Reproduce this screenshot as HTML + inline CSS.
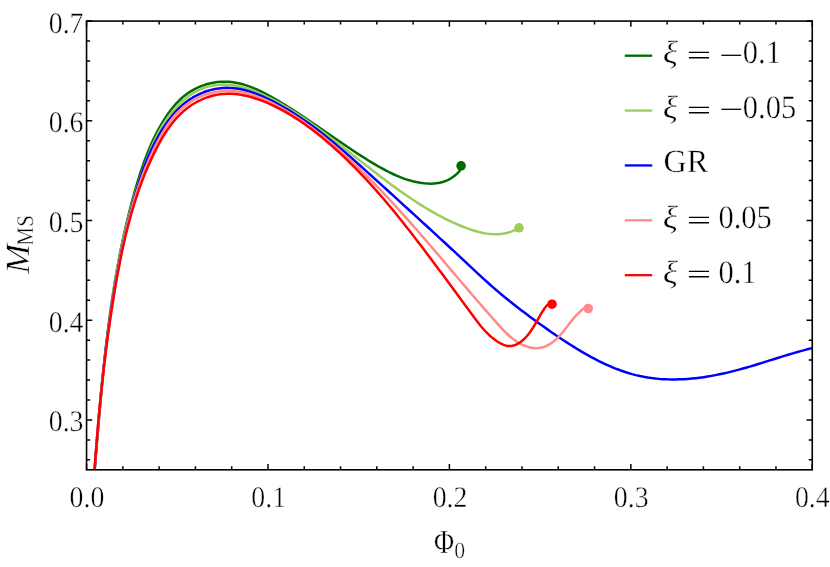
<!DOCTYPE html>
<html lang="en"><head><meta charset="utf-8"><title>M_MS vs Phi_0</title>
<style>
html,body{margin:0;padding:0;background:#fff;}
body{width:830px;height:567px;overflow:hidden;}
svg{display:block;}
text{font-family:"Liberation Serif",serif;fill:#000;stroke:#fff;stroke-width:0.45px;paint-order:fill stroke;text-rendering:geometricPrecision;}
.it{font-style:italic;}
.ns{stroke:none;}
</style></head><body>
<svg style="will-change:transform" width="830" height="567" viewBox="0 0 830 567">
<rect width="830" height="567" fill="#fff"/>
<defs><clipPath id="c"><rect x="86.56" y="21.07" width="725.69" height="448.73"/></clipPath></defs>
<g clip-path="url(#c)" fill="none" stroke-width="2.5" stroke-linejoin="round" stroke-linecap="butt">
<path d="M94.60 469.80 L94.94 465.79 L95.28 461.78 L95.62 457.77 L95.95 453.76 L96.29 449.75 L96.63 445.74 L96.96 441.72 L97.30 437.71 L97.64 433.69 L97.98 429.68 L98.32 425.66 L98.67 421.64 L99.01 417.63 L99.36 413.61 L99.72 409.59 L100.07 405.57 L100.43 401.56 L100.80 397.54 L101.17 393.52 L101.54 389.51 L101.92 385.49 L102.31 381.47 L102.70 377.46 L103.10 373.44 L103.50 369.43 L103.92 365.42 L104.34 361.41 L104.77 357.40 L105.20 353.39 L105.65 349.38 L106.10 345.37 L106.57 341.37 L107.04 337.36 L107.53 333.36 L108.02 329.36 L108.53 325.36 L109.04 321.37 L109.57 317.37 L110.11 313.38 L110.67 309.39 L111.23 305.40 L111.81 301.42 L112.41 297.43 L113.01 293.45 L113.63 289.47 L114.27 285.50 L114.92 281.53 L115.59 277.56 L116.27 273.59 L116.97 269.63 L117.68 265.67 L118.41 261.71 L119.16 257.76 L119.92 253.81 L120.71 249.86 L121.51 245.92 L122.33 241.98 L123.17 238.05 L124.03 234.12 L124.91 230.19 L125.81 226.27 L126.73 222.35 L127.67 218.44 L128.63 214.53 L129.61 210.62 L130.62 206.72 L131.64 202.83 L132.69 198.94 L133.76 195.05 L134.86 191.17 L135.98 187.30 L137.13 183.43 L138.30 179.56 L139.50 175.71 L140.73 171.86 L142.00 168.03 L143.32 164.21 L144.67 160.41 L146.08 156.63 L147.54 152.87 L149.06 149.13 L150.64 145.42 L152.28 141.74 L154.00 138.09 L155.78 134.47 L157.64 130.88 L159.58 127.33 L161.61 123.82 L163.72 120.35 L165.93 116.93 L168.23 113.56 L170.64 110.26 L173.16 107.06 L175.80 103.98 L178.57 101.04 L181.49 98.25 L184.54 95.66 L187.76 93.26 L191.11 91.08 L194.59 89.12 L198.19 87.37 L201.88 85.85 L205.66 84.56 L209.51 83.50 L213.40 82.68 L217.33 82.10 L221.29 81.76 L225.25 81.67 L229.20 81.83 L233.12 82.25 L237.02 82.91 L240.89 83.79 L244.73 84.88 L248.54 86.15 L252.32 87.58 L256.07 89.16 L259.79 90.87 L263.47 92.69 L267.12 94.59 L270.74 96.57 L274.32 98.59 L277.87 100.65 L281.38 102.74 L284.86 104.85 L288.32 106.99 L291.74 109.14 L295.14 111.32 L298.52 113.51 L301.88 115.72 L305.22 117.94 L308.55 120.18 L311.86 122.42 L315.16 124.67 L318.46 126.93 L321.74 129.20 L325.03 131.47 L328.31 133.74 L331.59 136.01 L334.88 138.28 L338.17 140.54 L341.47 142.80 L344.78 145.05 L348.11 147.29 L351.44 149.52 L354.80 151.74 L358.17 153.94 L361.57 156.13 L364.99 158.29 L368.43 160.44 L371.91 162.57 L375.41 164.66 L378.95 166.72 L382.51 168.71 L386.12 170.64 L389.75 172.49 L393.43 174.25 L397.14 175.89 L400.88 177.42 L404.67 178.82 L408.50 180.07 L412.37 181.17 L416.28 182.09 L420.23 182.83 L424.20 183.35 L428.16 183.62 L432.09 183.63 L435.98 183.33 L439.80 182.70 L443.53 181.71 L447.15 180.34 L450.64 178.55 L453.98 176.32 L457.14 173.61 L460.10 170.40 L461.10 165.85" stroke="#006c00"/>
<path d="M94.60 469.80 L94.96 465.81 L95.33 461.81 L95.69 457.82 L96.04 453.82 L96.39 449.82 L96.74 445.82 L97.09 441.82 L97.44 437.81 L97.79 433.80 L98.14 429.79 L98.49 425.79 L98.84 421.77 L99.19 417.76 L99.54 413.75 L99.89 409.74 L100.25 405.72 L100.61 401.71 L100.97 397.69 L101.33 393.68 L101.70 389.67 L102.08 385.65 L102.46 381.64 L102.85 377.62 L103.24 373.61 L103.64 369.59 L104.04 365.58 L104.46 361.57 L104.88 357.56 L105.31 353.55 L105.75 349.54 L106.20 345.53 L106.65 341.53 L107.12 337.53 L107.60 333.52 L108.09 329.52 L108.59 325.52 L109.10 321.53 L109.63 317.53 L110.17 313.54 L110.72 309.55 L111.29 305.57 L111.87 301.59 L112.46 297.60 L113.07 293.63 L113.69 289.65 L114.34 285.68 L114.99 281.72 L115.67 277.75 L116.36 273.79 L117.07 269.83 L117.80 265.88 L118.55 261.93 L119.31 257.99 L120.10 254.05 L120.90 250.12 L121.73 246.19 L122.58 242.26 L123.45 238.34 L124.34 234.42 L125.25 230.51 L126.19 226.61 L127.15 222.71 L128.13 218.81 L129.14 214.92 L130.17 211.04 L131.23 207.16 L132.31 203.29 L133.42 199.43 L134.55 195.57 L135.71 191.72 L136.90 187.87 L138.12 184.03 L139.37 180.20 L140.64 176.38 L141.94 172.56 L143.28 168.75 L144.64 164.95 L146.03 161.15 L147.46 157.37 L148.94 153.61 L150.46 149.86 L152.04 146.15 L153.69 142.47 L155.40 138.83 L157.19 135.23 L159.07 131.68 L161.03 128.19 L163.09 124.75 L165.25 121.38 L167.52 118.07 L169.91 114.84 L172.41 111.69 L175.05 108.63 L177.82 105.65 L180.72 102.79 L183.75 100.07 L186.90 97.50 L190.17 95.11 L193.56 92.93 L197.06 90.97 L200.67 89.26 L204.38 87.82 L208.18 86.64 L212.05 85.73 L215.97 85.08 L219.94 84.69 L223.92 84.56 L227.91 84.69 L231.89 85.07 L235.85 85.69 L239.78 86.53 L243.69 87.56 L247.56 88.75 L251.40 90.08 L255.19 91.52 L258.94 93.04 L262.65 94.65 L266.32 96.33 L269.95 98.09 L273.54 99.92 L277.10 101.81 L280.62 103.76 L284.11 105.77 L287.57 107.83 L291.00 109.94 L294.40 112.09 L297.78 114.28 L301.14 116.51 L304.47 118.77 L307.78 121.05 L311.08 123.36 L314.35 125.70 L317.61 128.06 L320.86 130.43 L324.09 132.83 L327.31 135.24 L330.51 137.66 L333.71 140.10 L336.90 142.55 L340.08 145.01 L343.26 147.48 L346.43 149.96 L349.59 152.44 L352.75 154.93 L355.92 157.41 L359.08 159.90 L362.24 162.38 L365.41 164.86 L368.58 167.34 L371.75 169.81 L374.93 172.27 L378.12 174.72 L381.31 177.16 L384.52 179.58 L387.74 181.99 L390.97 184.39 L394.21 186.76 L397.47 189.12 L400.75 191.45 L404.04 193.76 L407.35 196.04 L410.68 198.30 L414.03 200.53 L417.41 202.73 L420.80 204.89 L424.22 207.02 L427.67 209.10 L431.14 211.14 L434.64 213.13 L438.17 215.07 L441.73 216.96 L445.31 218.79 L448.93 220.57 L452.58 222.28 L456.26 223.92 L459.98 225.50 L463.73 227.00 L467.51 228.43 L471.33 229.77 L475.18 230.98 L479.06 232.05 L482.96 232.94 L486.87 233.63 L490.80 234.08 L494.73 234.28 L498.67 234.19 L502.61 233.78 L506.55 233.04 L510.48 231.92 L514.40 230.40 L519.00 227.80" stroke="#9ccd5c"/>
<path d="M94.60 469.80 L94.91 465.79 L95.21 461.78 L95.52 457.77 L95.84 453.76 L96.15 449.75 L96.47 445.74 L96.79 441.73 L97.12 437.73 L97.44 433.72 L97.78 429.71 L98.12 425.70 L98.46 421.70 L98.80 417.69 L99.16 413.69 L99.51 409.68 L99.88 405.68 L100.25 401.67 L100.62 397.67 L101.01 393.67 L101.40 389.67 L101.79 385.67 L102.20 381.67 L102.61 377.68 L103.03 373.68 L103.46 369.69 L103.89 365.70 L104.34 361.70 L104.80 357.71 L105.26 353.73 L105.73 349.74 L106.22 345.75 L106.71 341.77 L107.22 337.79 L107.74 333.81 L108.26 329.83 L108.80 325.85 L109.35 321.88 L109.92 317.90 L110.49 313.93 L111.08 309.96 L111.68 306.00 L112.29 302.03 L112.92 298.07 L113.56 294.11 L114.21 290.15 L114.88 286.20 L115.57 282.25 L116.27 278.30 L116.98 274.35 L117.71 270.41 L118.45 266.46 L119.21 262.52 L119.99 258.59 L120.78 254.65 L121.59 250.72 L122.42 246.80 L123.26 242.87 L124.13 238.95 L125.01 235.03 L125.91 231.11 L126.82 227.20 L127.76 223.29 L128.71 219.39 L129.69 215.49 L130.68 211.59 L131.69 207.69 L132.73 203.80 L133.78 199.91 L134.86 196.03 L135.97 192.16 L137.11 188.30 L138.29 184.44 L139.50 180.60 L140.76 176.78 L142.07 172.97 L143.42 169.18 L144.82 165.42 L146.28 161.67 L147.80 157.95 L149.39 154.26 L151.04 150.59 L152.76 146.95 L154.55 143.34 L156.42 139.77 L158.37 136.23 L160.41 132.73 L162.53 129.27 L164.74 125.85 L167.05 122.48 L169.46 119.19 L171.98 115.99 L174.60 112.89 L177.34 109.91 L180.20 107.08 L183.19 104.40 L186.30 101.90 L189.55 99.58 L192.91 97.46 L196.38 95.53 L199.95 93.80 L203.60 92.28 L207.32 90.98 L211.10 89.89 L214.93 89.02 L218.80 88.39 L222.70 87.98 L226.62 87.82 L230.53 87.89 L234.45 88.21 L238.35 88.76 L242.24 89.52 L246.12 90.47 L249.98 91.60 L253.81 92.89 L257.62 94.33 L261.40 95.89 L265.15 97.57 L268.87 99.33 L272.54 101.18 L276.18 103.09 L279.76 105.05 L283.31 107.05 L286.82 109.10 L290.28 111.19 L293.71 113.33 L297.10 115.51 L300.46 117.73 L303.78 119.98 L307.08 122.27 L310.34 124.60 L313.57 126.96 L316.78 129.35 L319.96 131.77 L323.12 134.22 L326.26 136.70 L329.37 139.20 L332.47 141.73 L335.55 144.27 L338.61 146.84 L341.66 149.43 L344.69 152.04 L347.71 154.66 L350.73 157.29 L353.73 159.94 L356.73 162.60 L359.72 165.27 L362.71 167.94 L365.70 170.63 L368.69 173.32 L371.68 176.01 L374.66 178.71 L377.64 181.41 L380.63 184.11 L383.61 186.82 L386.59 189.53 L389.57 192.24 L392.55 194.95 L395.53 197.67 L398.50 200.38 L401.48 203.09 L404.45 205.81 L407.42 208.52 L410.39 211.23 L413.36 213.94 L416.33 216.65 L419.30 219.35 L422.26 222.06 L425.23 224.77 L428.19 227.47 L431.14 230.18 L434.10 232.89 L437.05 235.61 L440.00 238.32 L442.95 241.04 L445.90 243.76 L448.84 246.49 L451.78 249.22 L454.72 251.96 L457.65 254.71 L460.58 257.46 L463.51 260.21 L466.44 262.96 L469.37 265.70 L472.31 268.45 L475.26 271.19 L478.21 273.91 L481.18 276.63 L484.15 279.34 L487.14 282.03 L490.14 284.70 L493.16 287.35 L496.20 289.99 L499.25 292.60 L502.33 295.18 L505.43 297.74 L508.55 300.27 L511.68 302.78 L514.84 305.27 L518.01 307.74 L521.20 310.18 L524.40 312.61 L527.61 315.02 L530.84 317.41 L534.08 319.78 L537.33 322.14 L540.59 324.48 L543.86 326.81 L547.14 329.12 L550.43 331.42 L553.73 333.71 L557.04 335.97 L560.36 338.22 L563.70 340.44 L567.06 342.63 L570.44 344.80 L573.84 346.93 L577.26 349.03 L580.71 351.10 L584.19 353.13 L587.69 355.11 L591.23 357.06 L594.80 358.96 L598.40 360.80 L602.03 362.59 L605.69 364.31 L609.38 365.97 L613.10 367.54 L616.84 369.04 L620.61 370.45 L624.41 371.77 L628.23 372.99 L632.07 374.11 L635.94 375.12 L639.83 376.01 L643.74 376.80 L647.67 377.47 L651.61 378.04 L655.57 378.51 L659.54 378.88 L663.53 379.15 L667.52 379.33 L671.52 379.42 L675.53 379.42 L679.54 379.33 L683.56 379.16 L687.57 378.91 L691.58 378.58 L695.60 378.18 L699.60 377.70 L703.60 377.16 L707.60 376.55 L711.58 375.87 L715.55 375.14 L719.51 374.35 L723.45 373.50 L727.38 372.60 L731.29 371.65 L735.18 370.66 L739.06 369.63 L742.93 368.56 L746.79 367.45 L750.64 366.33 L754.48 365.18 L758.32 364.01 L762.15 362.82 L765.98 361.63 L769.81 360.43 L773.63 359.23 L777.46 358.03 L781.29 356.84 L785.13 355.66 L788.97 354.50 L792.82 353.36 L796.69 352.24 L800.56 351.15 L804.44 350.10 L808.34 349.08 L812.25 348.10" stroke="#0000ff"/>
<path d="M94.60 469.80 L94.89 465.77 L95.19 461.73 L95.49 457.70 L95.79 453.67 L96.10 449.65 L96.41 445.62 L96.73 441.60 L97.06 437.58 L97.38 433.56 L97.72 429.54 L98.06 425.53 L98.41 421.52 L98.76 417.51 L99.12 413.50 L99.48 409.49 L99.85 405.48 L100.23 401.48 L100.62 397.48 L101.02 393.47 L101.42 389.47 L101.83 385.48 L102.24 381.48 L102.67 377.48 L103.11 373.49 L103.55 369.50 L104.00 365.51 L104.46 361.52 L104.93 357.53 L105.41 353.54 L105.91 349.56 L106.41 345.57 L106.92 341.59 L107.44 337.60 L107.97 333.62 L108.51 329.64 L109.06 325.66 L109.63 321.68 L110.21 317.70 L110.79 313.73 L111.39 309.75 L112.00 305.77 L112.63 301.80 L113.27 297.83 L113.92 293.85 L114.58 289.88 L115.25 285.91 L115.94 281.94 L116.64 277.97 L117.36 273.99 L118.09 270.02 L118.83 266.06 L119.59 262.09 L120.37 258.12 L121.16 254.15 L121.96 250.18 L122.78 246.22 L123.63 242.26 L124.49 238.30 L125.38 234.35 L126.29 230.41 L127.22 226.47 L128.18 222.54 L129.17 218.62 L130.18 214.70 L131.23 210.80 L132.31 206.91 L133.42 203.03 L134.56 199.17 L135.75 195.31 L136.96 191.48 L138.22 187.65 L139.51 183.85 L140.85 180.06 L142.23 176.29 L143.65 172.54 L145.11 168.81 L146.63 165.10 L148.19 161.41 L149.80 157.74 L151.46 154.10 L153.17 150.48 L154.93 146.88 L156.75 143.32 L158.62 139.78 L160.55 136.26 L162.55 132.79 L164.63 129.36 L166.79 125.99 L169.07 122.70 L171.46 119.50 L173.99 116.40 L176.66 113.41 L179.49 110.55 L182.48 107.82 L185.64 105.26 L188.95 102.87 L192.39 100.67 L195.95 98.68 L199.63 96.91 L203.40 95.37 L207.25 94.05 L211.15 92.95 L215.10 92.09 L219.07 91.46 L223.06 91.06 L227.03 90.89 L230.99 90.96 L234.92 91.24 L238.84 91.73 L242.73 92.42 L246.59 93.28 L250.44 94.32 L254.25 95.51 L258.04 96.85 L261.79 98.33 L265.52 99.92 L269.21 101.63 L272.87 103.43 L276.49 105.32 L280.08 107.29 L283.63 109.31 L287.14 111.39 L290.61 113.51 L294.04 115.67 L297.44 117.87 L300.80 120.11 L304.12 122.40 L307.41 124.72 L310.67 127.07 L313.90 129.47 L317.10 131.89 L320.27 134.35 L323.41 136.84 L326.53 139.36 L329.62 141.91 L332.69 144.49 L335.73 147.09 L338.75 149.72 L341.76 152.38 L344.74 155.06 L347.71 157.76 L350.66 160.48 L353.59 163.22 L356.50 165.98 L359.40 168.76 L362.29 171.56 L365.16 174.37 L368.01 177.21 L370.85 180.06 L373.67 182.93 L376.48 185.81 L379.28 188.71 L382.07 191.62 L384.84 194.55 L387.60 197.49 L390.35 200.44 L393.09 203.40 L395.82 206.38 L398.54 209.36 L401.24 212.36 L403.94 215.36 L406.63 218.37 L409.31 221.39 L411.98 224.42 L414.65 227.46 L417.31 230.50 L419.96 233.55 L422.60 236.60 L425.24 239.66 L427.87 242.72 L430.50 245.78 L433.12 248.84 L435.74 251.91 L438.35 254.98 L440.96 258.05 L443.57 261.12 L446.17 264.19 L448.77 267.25 L451.37 270.32 L453.97 273.38 L456.57 276.44 L459.17 279.50 L461.76 282.55 L464.36 285.59 L466.96 288.63 L469.56 291.67 L472.16 294.70 L474.77 297.73 L477.38 300.76 L480.00 303.80 L482.64 306.83 L485.28 309.87 L487.94 312.92 L490.61 315.97 L493.29 319.03 L496.00 322.10 L498.73 325.17 L501.50 328.20 L504.34 331.16 L507.25 334.00 L510.25 336.70 L513.37 339.21 L516.62 341.50 L520.02 343.54 L523.59 345.27 L527.34 346.67 L531.23 347.67 L535.19 348.16 L539.11 348.06 L542.94 347.27 L546.62 345.86 L550.13 343.93 L553.44 341.58 L556.52 338.93 L559.39 336.05 L562.08 333.00 L564.66 329.83 L567.16 326.59 L569.64 323.34 L572.15 320.14 L574.73 317.03 L577.43 314.07 L580.31 311.31 L583.40 308.80 L588.20 308.50" stroke="#ff8a8a"/>
<path d="M94.60 469.80 L94.88 465.76 L95.17 461.72 L95.47 457.69 L95.77 453.65 L96.07 449.62 L96.39 445.60 L96.70 441.57 L97.03 437.55 L97.36 433.52 L97.70 429.50 L98.04 425.48 L98.40 421.47 L98.75 417.45 L99.12 413.44 L99.49 409.43 L99.88 405.42 L100.27 401.41 L100.66 397.40 L101.07 393.40 L101.48 389.39 L101.90 385.39 L102.33 381.39 L102.77 377.39 L103.22 373.39 L103.67 369.39 L104.14 365.40 L104.61 361.40 L105.10 357.41 L105.59 353.41 L106.09 349.42 L106.61 345.43 L107.13 341.44 L107.66 337.45 L108.21 333.46 L108.76 329.47 L109.32 325.48 L109.90 321.49 L110.49 317.50 L111.08 313.51 L111.69 309.53 L112.31 305.54 L112.94 301.55 L113.58 297.57 L114.24 293.58 L114.90 289.59 L115.58 285.61 L116.27 281.62 L116.98 277.64 L117.70 273.66 L118.44 269.68 L119.19 265.70 L119.96 261.72 L120.76 257.75 L121.57 253.79 L122.41 249.83 L123.27 245.88 L124.15 241.93 L125.06 237.99 L125.99 234.06 L126.96 230.13 L127.95 226.22 L128.97 222.31 L130.02 218.41 L131.10 214.53 L132.21 210.65 L133.36 206.79 L134.55 202.94 L135.77 199.10 L137.02 195.27 L138.32 191.46 L139.65 187.67 L141.03 183.88 L142.44 180.12 L143.90 176.37 L145.40 172.64 L146.95 168.92 L148.54 165.22 L150.18 161.55 L151.87 157.89 L153.60 154.25 L155.39 150.63 L157.23 147.03 L159.12 143.46 L161.08 139.92 L163.11 136.44 L165.23 133.01 L167.43 129.66 L169.74 126.38 L172.15 123.19 L174.68 120.10 L177.33 117.13 L180.11 114.28 L183.04 111.56 L186.12 108.98 L189.35 106.55 L192.75 104.29 L196.30 102.21 L199.98 100.33 L203.75 98.65 L207.61 97.20 L211.52 95.99 L215.46 95.04 L219.42 94.36 L223.38 93.94 L227.35 93.76 L231.31 93.81 L235.27 94.08 L239.22 94.56 L243.15 95.22 L247.07 96.07 L250.97 97.07 L254.83 98.23 L258.67 99.52 L262.48 100.94 L266.24 102.46 L269.97 104.09 L273.64 105.79 L277.28 107.58 L280.86 109.44 L284.41 111.37 L287.91 113.38 L291.37 115.45 L294.79 117.59 L298.17 119.78 L301.52 122.03 L304.83 124.34 L308.10 126.70 L311.34 129.10 L314.54 131.55 L317.72 134.04 L320.86 136.57 L323.97 139.13 L327.05 141.73 L330.11 144.36 L333.14 147.01 L336.14 149.70 L339.11 152.41 L342.06 155.15 L344.98 157.92 L347.88 160.71 L350.76 163.53 L353.61 166.37 L356.44 169.23 L359.25 172.12 L362.03 175.03 L364.80 177.97 L367.54 180.92 L370.27 183.89 L372.97 186.88 L375.66 189.89 L378.32 192.92 L380.97 195.96 L383.61 199.02 L386.22 202.10 L388.82 205.19 L391.41 208.29 L393.98 211.41 L396.53 214.54 L399.08 217.68 L401.61 220.83 L404.12 223.99 L406.63 227.16 L409.12 230.34 L411.61 233.53 L414.08 236.73 L416.54 239.93 L419.00 243.13 L421.44 246.35 L423.88 249.56 L426.31 252.78 L428.74 256.00 L431.16 259.22 L433.57 262.45 L435.98 265.67 L438.38 268.90 L440.78 272.12 L443.18 275.34 L445.57 278.56 L447.96 281.78 L450.35 285.01 L452.74 288.24 L455.12 291.47 L457.51 294.71 L459.89 297.95 L462.28 301.20 L464.66 304.46 L467.05 307.74 L469.44 311.02 L471.83 314.31 L474.24 317.60 L476.68 320.86 L479.19 324.07 L481.78 327.21 L484.46 330.25 L487.27 333.18 L490.21 335.97 L493.31 338.60 L496.60 341.04 L500.05 343.21 L503.62 344.91 L507.26 345.94 L510.91 346.10 L514.50 345.31 L518.00 343.71 L521.32 341.48 L524.41 338.77 L527.23 335.74 L529.78 332.47 L532.13 329.04 L534.33 325.49 L536.42 321.88 L538.47 318.27 L540.52 314.72 L542.62 311.29 L544.83 308.03 L547.20 305.00 L552.00 304.25" stroke="#ff0000"/>
</g>
<circle cx="461.1" cy="165.8" r="4.8" fill="#006c00"/>
<circle cx="519.0" cy="227.8" r="4.8" fill="#9ccd5c"/>
<circle cx="588.2" cy="308.5" r="4.8" fill="#ff8a8a"/>
<circle cx="552.0" cy="304.2" r="4.8" fill="#ff0000"/>
<path d="M86.56 469.80v-5.70M86.56 21.07v5.70M122.84 469.80v-3.50M122.84 21.07v3.50M159.13 469.80v-3.50M159.13 21.07v3.50M195.41 469.80v-3.50M195.41 21.07v3.50M231.70 469.80v-3.50M231.70 21.07v3.50M267.98 469.80v-5.70M267.98 21.07v5.70M304.27 469.80v-3.50M304.27 21.07v3.50M340.55 469.80v-3.50M340.55 21.07v3.50M376.84 469.80v-3.50M376.84 21.07v3.50M413.12 469.80v-3.50M413.12 21.07v3.50M449.40 469.80v-5.70M449.40 21.07v5.70M485.69 469.80v-3.50M485.69 21.07v3.50M521.97 469.80v-3.50M521.97 21.07v3.50M558.26 469.80v-3.50M558.26 21.07v3.50M594.54 469.80v-3.50M594.54 21.07v3.50M630.83 469.80v-5.70M630.83 21.07v5.70M667.11 469.80v-3.50M667.11 21.07v3.50M703.40 469.80v-3.50M703.40 21.07v3.50M739.68 469.80v-3.50M739.68 21.07v3.50M775.97 469.80v-3.50M775.97 21.07v3.50M812.25 469.80v-5.70M812.25 21.07v5.70M86.56 459.83h3.50M812.25 459.83h-3.50M86.56 439.88h3.50M812.25 439.88h-3.50M86.56 419.94h5.70M812.25 419.94h-5.70M86.56 400.00h3.50M812.25 400.00h-3.50M86.56 380.05h3.50M812.25 380.05h-3.50M86.56 360.11h3.50M812.25 360.11h-3.50M86.56 340.17h3.50M812.25 340.17h-3.50M86.56 320.22h5.70M812.25 320.22h-5.70M86.56 300.28h3.50M812.25 300.28h-3.50M86.56 280.34h3.50M812.25 280.34h-3.50M86.56 260.39h3.50M812.25 260.39h-3.50M86.56 240.45h3.50M812.25 240.45h-3.50M86.56 220.51h5.70M812.25 220.51h-5.70M86.56 200.56h3.50M812.25 200.56h-3.50M86.56 180.62h3.50M812.25 180.62h-3.50M86.56 160.67h3.50M812.25 160.67h-3.50M86.56 140.73h3.50M812.25 140.73h-3.50M86.56 120.79h5.70M812.25 120.79h-5.70M86.56 100.84h3.50M812.25 100.84h-3.50M86.56 80.90h3.50M812.25 80.90h-3.50M86.56 60.96h3.50M812.25 60.96h-3.50M86.56 41.01h3.50M812.25 41.01h-3.50M86.56 21.07h5.70M812.25 21.07h-5.70" stroke="#000" stroke-width="1.5" fill="none"/>
<rect x="86.56" y="21.07" width="725.69" height="448.73" fill="none" stroke="#000" stroke-width="1.6"/>
<g>
<text font-size="29.93" transform="translate(69.58 506.55) scale(0.9290 1.0000)">0.0</text>
<text font-size="29.93" transform="translate(251.31 506.55) scale(0.9290 1.0000)">0.1</text>
<text font-size="29.93" transform="translate(432.66 506.55) scale(0.9290 1.0000)">0.2</text>
<text font-size="29.93" transform="translate(613.86 506.55) scale(0.9290 1.0000)">0.3</text>
<text font-size="29.93" transform="translate(794.96 506.55) scale(0.9290 1.0000)">0.4</text>
<text font-size="29.93" transform="translate(48.74 431.49) scale(0.9290 1.0000)">0.3</text>
<text font-size="29.93" transform="translate(48.74 331.77) scale(0.9290 1.0000)">0.4</text>
<text font-size="29.93" transform="translate(48.74 232.06) scale(0.9290 1.0000)">0.5</text>
<text font-size="29.93" transform="translate(48.74 132.34) scale(0.9290 1.0000)">0.6</text>
<text font-size="29.93" transform="translate(48.74 32.62) scale(0.9290 1.0000)">0.7</text>
<text font-size="33.75" transform="translate(433.97 552.90) scale(0.8130 1.0000)">&#934;</text>
<text font-size="23.12" transform="translate(454.37 557.75) scale(0.9400 1.0000)">0</text>
<text class="it" font-size="34.06" transform="translate(28.70 273.78) rotate(-90) scale(1.0520 1.0000)">M</text>
<text font-size="23.82" transform="translate(33.00 245.40) rotate(-90) scale(0.8810 1.0000)">MS</text>
<path d="M624.8 55.70H652.2" stroke="#006c00" stroke-width="2.3" fill="none"/>
<text class="it" font-size="32.75" transform="translate(662.69 63.25) scale(1.0780 0.9840)">&#958;</text>
<text class="ns" font-size="32.75" transform="translate(686.65 63.92) scale(1.3190 0.8200)">=</text>
<text class="ns" font-size="32.75" transform="translate(719.28 63.60) scale(1.3000 0.8000)">&#8722;</text>
<text font-size="32.75" transform="translate(742.84 63.20) scale(0.9320 1.0000)">0.1</text>
<path d="M624.8 110.57H652.2" stroke="#9ccd5c" stroke-width="2.3" fill="none"/>
<text class="it" font-size="32.75" transform="translate(662.69 118.12) scale(1.0780 0.9840)">&#958;</text>
<text class="ns" font-size="32.75" transform="translate(686.65 118.79) scale(1.3190 0.8200)">=</text>
<text class="ns" font-size="32.75" transform="translate(719.28 118.47) scale(1.3000 0.8000)">&#8722;</text>
<text font-size="32.75" transform="translate(742.84 118.07) scale(0.9320 1.0000)">0.05</text>
<path d="M624.8 165.44H652.2" stroke="#0000ff" stroke-width="2.3" fill="none"/>
<text font-size="32.53" transform="translate(663.48 172.45) scale(0.9930 1.0000)">GR</text>
<path d="M624.8 220.31H652.2" stroke="#ff8a8a" stroke-width="2.3" fill="none"/>
<text class="it" font-size="32.75" transform="translate(662.69 227.86) scale(1.0780 0.9840)">&#958;</text>
<text class="ns" font-size="32.75" transform="translate(686.65 228.53) scale(1.3190 0.8200)">=</text>
<text font-size="32.75" transform="translate(718.44 227.81) scale(0.9320 1.0000)">0.05</text>
<path d="M624.8 275.18H652.2" stroke="#ff0000" stroke-width="2.3" fill="none"/>
<text class="it" font-size="32.75" transform="translate(662.69 282.73) scale(1.0780 0.9840)">&#958;</text>
<text class="ns" font-size="32.75" transform="translate(686.65 283.40) scale(1.3190 0.8200)">=</text>
<text font-size="32.75" transform="translate(718.44 282.68) scale(0.9320 1.0000)">0.1</text>
</g>
</svg>
</body></html>
